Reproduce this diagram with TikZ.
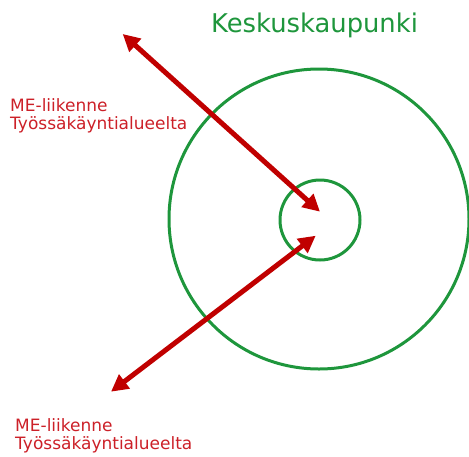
\documentclass[tikz,border=0pt]{standalone}
\usepackage{fontspec}
\setmainfont{DejaVu Sans}
\usetikzlibrary{arrows.meta}
\usetikzlibrary{positioning}
\definecolor{zonegreen}{RGB}{30,150,60}
\definecolor{flowred}{RGB}{192,0,0}
\definecolor{labelred}{RGB}{204,32,40}

\begin{document}
\begin{tikzpicture}[x=1pt, y=-1pt,
		zone/.style = {circle, draw=zonegreen, line width=3pt, inner sep=0pt},
		flow/.style = {{Triangle[length=17pt, width=17pt]}-{Triangle[length=17pt, width=17pt]}, draw=flowred, line width=5pt},
		lbl/.style = {anchor=north west, inner sep=0pt, align=left, text=labelred, font=\fontsize{17}{18.5}\selectfont},
		]
		\useasboundingbox (0, 0) rectangle (469, 456);
		
		\node[zone, minimum size=300pt]	(city)	at (319, 219) {};
		\node[zone, minimum size=80pt]	(core)	at (320, 220) {};
		\node[anchor=base west, inner sep=0pt, text=zonegreen, font=\fontsize{25.8}{28}\selectfont]	(title)	at (211, 32) {Keskuskaupunki};
		
		\coordinate (out1)	at (122.7, 34);
		\coordinate (in1)	at (320, 211.7);
		\coordinate (out2)	at (111, 391.7);
		\coordinate (in2)	at (315.7, 235.7);
		\draw[flow]	(out1)	to	(in1);
		\draw[flow]	(out2)	to	(in2);
		
		\node[lbl]	(upper)	at (10, 98)	{ME-liikenne\\Työssäkäyntialueelta};
		\node[lbl]	(lower)	at (15, 418)	{ME-liikenne\\Työssäkäyntialueelta};
	\end{tikzpicture}
\end{document}
